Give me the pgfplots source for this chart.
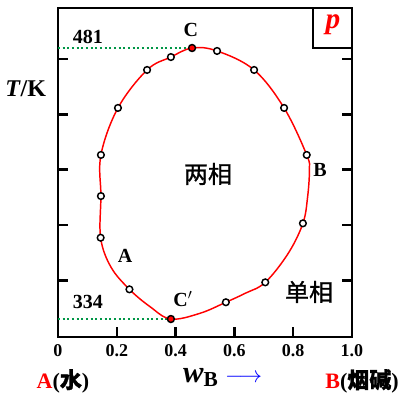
\documentclass[border=0pt]{standalone}
\usepackage{pgfplots}
\pgfplotsset{compat=1.18}
\usepackage{fontspec}
\setmainfont{Liberation Serif}
\newfontfamily\cjk[FakeBold=1]{Noto Sans CJK SC}
\definecolor{dgreen}{RGB}{0,150,70}
\begin{document}
\begin{tikzpicture}
\useasboundingbox (-43.5pt,-45pt) rectangle (260.25pt,252.75pt);
\begin{axis}[
  scale only axis, width=220.5pt, height=246.75pt,
  xmin=0, xmax=1, ymin=324.25, ymax=502.7,
  axis line style={line width=2pt},
  xtick={0,0.2,0.4,0.6,0.8,1.0},
  xticklabels={0,0.2,0.4,0.6,0.8,1.0},
  ytick={355,385,415,445,475}, yticklabels={},
  xtick pos=bottom, ytick pos=both,
  tick align=inside,
  major tick length=7.5pt,
  every tick/.style={black, line width=1.8pt},
  xticklabel style={font=\bfseries\fontsize{13.5}{13.5}\selectfont, yshift=-2pt},
  clip=false,
]
\addplot[dgreen, line width=1.5pt, dotted] coordinates {(0,481) (0.456,481)};
\addplot[dgreen, line width=1.5pt, dotted] coordinates {(0,334) (0.384,334)};
\addplot[red, line width=1.1pt, smooth cycle, tension=0.6] coordinates {
(0.456,481) (0.541,479.4) (0.667,469.1) (0.769,448.5) (0.846,423)
(0.855,414.8) (0.849,400.2) (0.833,385.9) (0.783,369.6) (0.705,353.9) (0.636,347.9) (0.571,343.1)
(0.483,337.1) (0.384,334) (0.313,340.7) (0.243,350.1) (0.180,362.2) (0.145,378.1)
(0.146,400.7) (0.146,423) (0.204,448.5) (0.303,469.1) (0.384,476.1)};
\addplot[only marks, mark=*, mark size=2.5pt, mark options={fill=white, draw=black, line width=1.1pt}] coordinates {
(0.541,479.4) (0.667,469.1) (0.769,448.5) (0.846,423) (0.833,385.9)
(0.705,353.9) (0.571,343.1) (0.243,350.1) (0.145,378.1) (0.146,400.7)
(0.146,423) (0.204,448.5) (0.303,469.1) (0.384,476.1)};
\addplot[only marks, mark=*, mark size=2.6pt, mark options={fill=red, draw=black, line width=1.1pt}] coordinates {(0.456,481) (0.384,334)};
\draw[line width=2pt] (axis cs:0.867,502.7) -- (axis cs:0.867,481) -- (axis cs:1,481);
\node[text=red, font=\bfseries\itshape\fontsize{22}{22}\selectfont] at (axis cs:0.935,493.5) {p};
\node[font=\bfseries\fontsize{15}{15}\selectfont] at (axis cs:0.102,487) {481};
\node[font=\bfseries\fontsize{15}{15}\selectfont] at (axis cs:0.102,343.2) {334};
\node[font=\bfseries\fontsize{15}{15}\selectfont] at (axis cs:0.452,490.8) {C};
\node[font=\bfseries\fontsize{15}{15}\selectfont] at (axis cs:0.425,344.9) {C$'$};
\node[font=\bfseries\fontsize{15}{15}\selectfont] at (axis cs:0.228,368.2) {A};
\node[font=\bfseries\fontsize{15}{15}\selectfont] at (axis cs:0.891,414.8) {B};
\node[font=\cjk\fontsize{18}{18}\selectfont] at (axis cs:0.510,412.7) {两相};
\node[font=\cjk\fontsize{18}{18}\selectfont] at (axis cs:0.854,348.7) {单相};
\node[font=\bfseries\fontsize{18}{18}\selectfont] at (axis cs:-0.11,459) {\textit{T}/K};
\node[font=\bfseries\fontsize{16}{16}\selectfont] at (axis cs:0.56,302.5) {{\fontsize{23}{23}\selectfont\textit{w}}\raisebox{-3pt}{B}\,\,\textcolor{blue}{$\longrightarrow$}};
\node[font=\bfseries\fontsize{16.5}{16.5}\selectfont] at (axis cs:0.017,300.4) {\textcolor{red}{A}({\cjk 水})};
\node[font=\bfseries\fontsize{16.5}{16.5}\selectfont] at (axis cs:1.034,300.4) {\textcolor{red}{B}({\cjk 烟碱})};
\end{axis}
\end{tikzpicture}
\end{document}
